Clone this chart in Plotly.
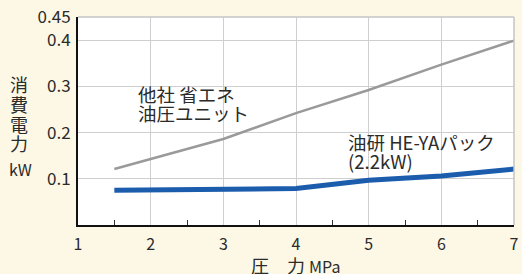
import plotly.graph_objects as go

# ---- data ----
other_x = [1.5, 3, 4, 5, 6, 7]
other_y = [0.121, 0.186, 0.242, 0.292, 0.347, 0.399]
yuken_x = [1.5, 4, 5, 6, 7]
yuken_y = [0.075, 0.079, 0.097, 0.106, 0.121]
y_ticks = [0.1, 0.2, 0.3, 0.4, 0.45]
y_ticktext = ["0.1", "0.2", "0.3", "0.4", "0.45"]
x_ticks = [1, 2, 3, 4, 5, 6, 7]
label_other = ["他社 省エネ", "油圧ユニット"]
label_yuken = ["油研 HE-YAパック", "(2.2kW)"]
y_title_chars = ["消", "費", "電", "力"]
y_unit = "kW"
x_title = "圧　力"
x_unit = "MPa"

W, H = 522, 274
L, R, T, B = 78, 3, 15, 49
PW, PH = W - L - R, H - T - B
FONT = "Noto Sans CJK JP"
TXT = "#2b2b2b"

def px(x):
    return (x - L) / PW

def py(y):
    return (H - B - y) / PH

fig = go.Figure()
fig.add_trace(go.Scatter(x=other_x, y=other_y, mode="lines",
                         line=dict(color="#9a9a9a", width=2.5), showlegend=False))
fig.add_trace(go.Scatter(x=yuken_x, y=yuken_y, mode="lines",
                         line=dict(color="#1c5cad", width=5), showlegend=False))

annos = []
for i, t in enumerate(label_other):
    annos.append(dict(text=t, x=px(137), y=py(93 + i * 19), xref="paper", yref="paper",
                      xanchor="left", yanchor="middle", showarrow=False,
                      font=dict(family=FONT, size=18.5, color=TXT)))
for i, t in enumerate(label_yuken):
    annos.append(dict(text=t, x=px(349), y=py(141 + i * 19), xref="paper", yref="paper",
                      xanchor="left", yanchor="middle", showarrow=False,
                      font=dict(family=FONT, size=18.5, color=TXT)))
for i, c in enumerate(y_title_chars):
    annos.append(dict(text=c, x=px(18), y=py(83 + i * 19.8), xref="paper", yref="paper",
                      xanchor="center", yanchor="middle", showarrow=False,
                      font=dict(family=FONT, size=18, color=TXT)))
annos.append(dict(text=y_unit, x=px(20), y=py(168), xref="paper", yref="paper",
                  xanchor="center", yanchor="middle", showarrow=False,
                  font=dict(family=FONT, size=16, color=TXT)))
annos.append(dict(text=x_title + " <span style='font-size:16px'>" + x_unit + "</span>",
                  x=px(298), y=py(265), xref="paper", yref="paper",
                  xanchor="center", yanchor="middle", showarrow=False,
                  font=dict(family=FONT, size=18, color=TXT)))

fig.update_layout(
    width=W, height=H,
    margin=dict(l=L, r=R, t=T, b=B),
    paper_bgcolor="#fdf8e6",
    plot_bgcolor="#ffffff",
    annotations=annos,
    shapes=[
        dict(type="line", xref="paper", yref="paper", x0=0, x1=1, y0=1, y1=1,
             line=dict(color="#c4c4c4", width=1.5)),
        dict(type="line", xref="paper", yref="paper", x0=1, x1=1, y0=0, y1=1,
             line=dict(color="#c4c4c4", width=1.5)),
    ],
    xaxis=dict(range=[1, 7], tickvals=x_ticks, ticks="", showgrid=True,
               gridcolor="#cfcfcf", gridwidth=1.2, showline=True, linecolor="#111111",
               linewidth=2, zeroline=False, ticklabeloverflow="allow",
               ticklabelstandoff=4,
               tickfont=dict(family=FONT, size=16, color=TXT),
               minor=dict(ticks="inside", tick0=1.5, dtick=1, ticklen=5,
                          tickcolor="#333333", tickwidth=1, showgrid=False)),
    yaxis=dict(range=[0, 0.45], tickvals=y_ticks, ticktext=y_ticktext, ticks="",
               showgrid=True, gridcolor="#cfcfcf", gridwidth=1.2, showline=True,
               linecolor="#111111", linewidth=2, zeroline=False,
               tickfont=dict(family=FONT, size=17, color=TXT), ticklabelstandoff=2),
)

fig.write_html("out.html", config={"displayModeBar": False},
               post_script="document.body.style.margin='0';document.body.style.background='#fdf8e6';")
